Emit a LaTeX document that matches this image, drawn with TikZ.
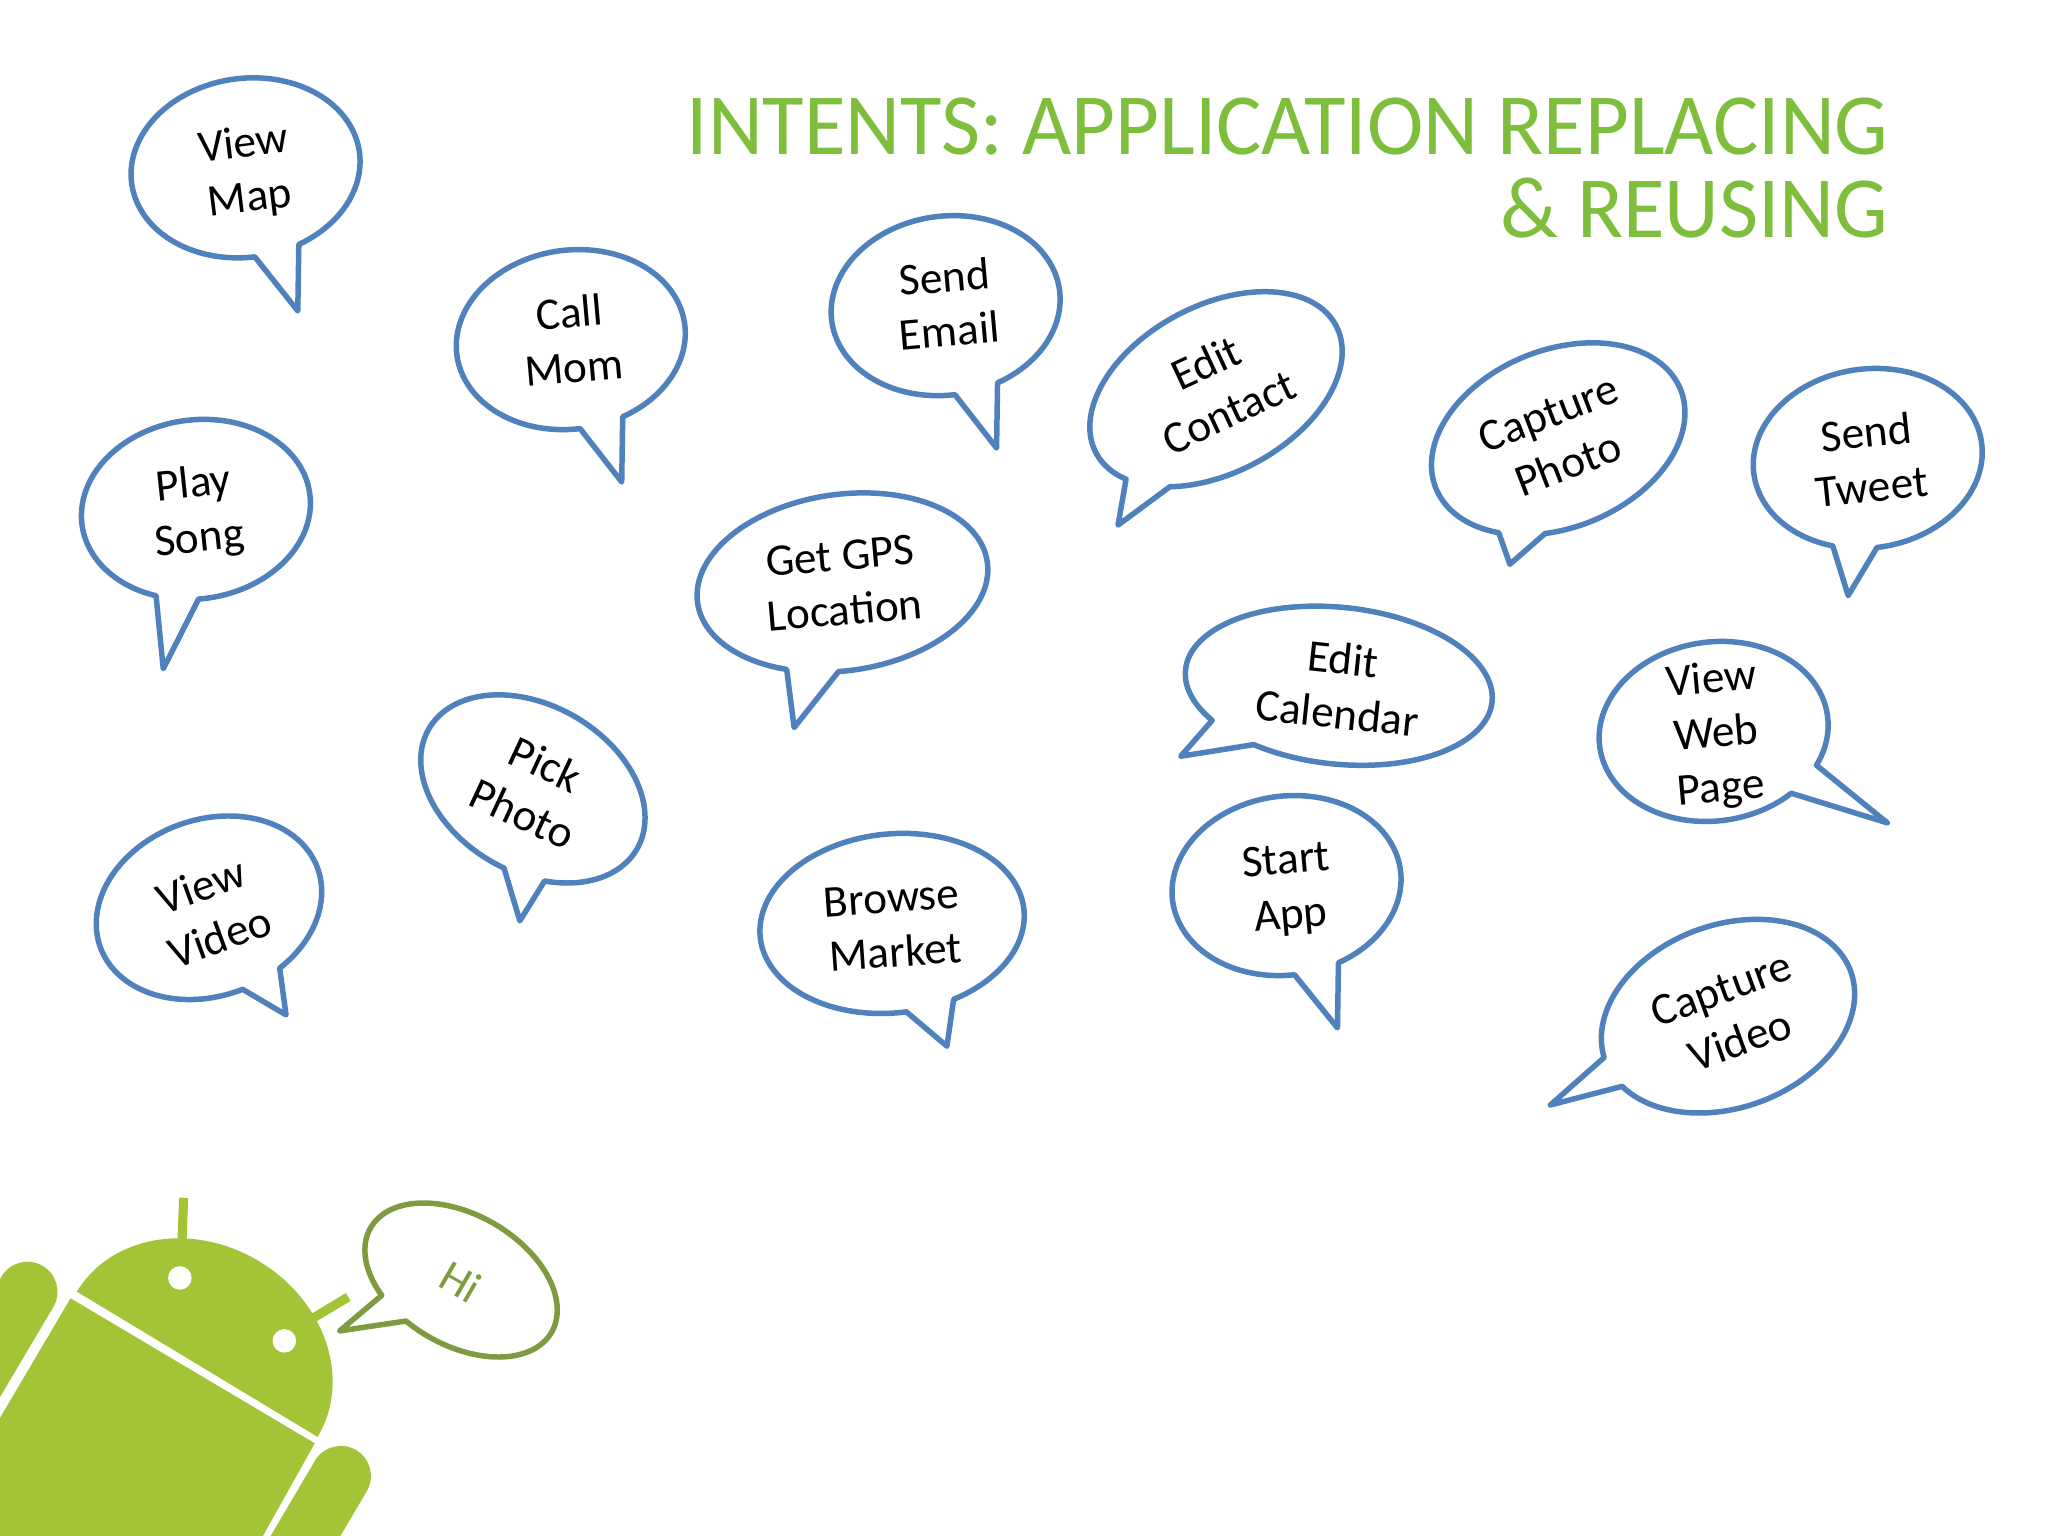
\documentclass[tikz,border=0pt]{standalone}
\usepackage{fontspec}
\setmainfont{Carlito}
\newfontfamily\titlefont[FakeStretch=0.974]{Carlito}
\usepackage{tikz}
\definecolor{bubbleblue}{HTML}{4F81BD}
\definecolor{hiolive}{HTML}{7F9B42}
\definecolor{titlegreen}{HTML}{7DBE3C}
\definecolor{droidgreen}{HTML}{A2C436}
\tikzstyle{bubble}=[line width=0.42mm, fill=white, line join=round]
\tikzstyle{bubbletext}=[align=center, font=\fontsize{9.85}{11.9}\selectfont, inner sep=0pt]
\tikzstyle{title}=[align=right, anchor=north east, inner sep=0pt, text=titlegreen, font=\titlefont\fontsize{19}{17.9}\selectfont]
\tikzstyle{limb}=[line width=4.6mm, line cap=round, draw=droidgreen]
\tikzstyle{antenna}=[line width=0.7mm, draw=droidgreen]
\tikzstyle{eye}=[circle, fill=white, minimum size=1.8mm, inner sep=0pt]

\begin{document}
\begin{tikzpicture}[x=0.1mm, y=0.1mm]
      \useasboundingbox (0,0) rectangle (1568,-1176);
      \clip (0,0) rectangle (1568,-1176);
      \fill [white] (0,0) rectangle (1568,-1176);

      \node [title] (heading) at (1446.5,-74.5) {INTENTS: APPLICATION REPLACING\\\& REUSING};

      % the droid
      \draw [limb] (21,-989) -- (-50,-1109);
      \draw [limb] (261,-1130) -- (225,-1191);
      \draw [antenna] (139,-960) -- (140.6,-917);
      \draw [antenna] (230,-1015) -- (266.6,-993);
      \fill [droidgreen] (54,-994) -- (241,-1105) -- (199,-1180) -- (-2,-1180) -- (-2,-1089) -- cycle;
      \begin{scope}[shift={(151,-1044.5)}, rotate=-31.1]
        \fill [droidgreen] (-107.6,0) arc (180:0:107.6 and 92) -- cycle;
      \end{scope}
      \node [eye] (lefteye) at (137.7,-978.4) {};
      \node [eye] (righteye) at (217.7,-1026.6) {};

      % name/colour/text colour/centre/radii/turn/tail ends/tip/text place/text turn/text
      \foreach \lbl/\col/\tcol/\cx/\cy/\rx/\ry/\rot/\ax/\ay/\bx/\by/\tx/\ty/\nx/\ny/\tr/\txt in {
        viewmap/bubbleblue/black/188/128.5/88/68.5/8/228/186/195/196/228/238/189/132/7/{View\\Map},
        callmom/bubbleblue/black/437/260/88/68.5/8/476/318/444/327/476/369/437.5/260/5/{Call\\Mom},
        sendemail/bubbleblue/black/724/234/88/68.5/8/763/292/731/301/763/343/725/232.5/5/{Send\\Email},
        editcontact/bubbleblue/black/931/298/104/64/28/896/372/865/364/856/402/932/296.5/25/{Edit\\Contact},
        capturephoto/bubbleblue/black/1193/336/101/68/22/1183/408/1148/407/1156/432/1193/336/21/{Capture\\Photo},
        sendtweet/bubbleblue/black/1430/351/88/68.5/8/1437/418/1404/416/1415/456/1431/351.5/6/{Send\\Tweet},
        playsong/bubbleblue/black/150/390/88/68.5/8/152/457/120/455/125/512/150.5/392.5/6/{Play\\Song},
        getgps/bubbleblue/black/645/446/112/67.5/8/642/514/602/513/608/557/645/446.5/5/{Get GPS\\Location},
        editcalendar/bubbleblue/black/1025/525/118/60/-6/960/570/930/551/904/579/1026/525/-6/{Edit\\Calendar},
        viewweb/bubbleblue/black/1312/560/88/68.5/8/1391/586/1371/607/1445/630/1314/563/5/{View\\Web\\Page},
        pickphoto/bubbleblue/black/408/604/92/64/-30/417/675/385/667/398/705/409/604/-25/{Pick\\Photo},
        viewvideo/bubbleblue/black/160/695/88.5/67.5/20/215/742/186/758/219/777/161/697.5/20/{View\\Video},
        browse/bubbleblue/black/683/707/101.5/68.5/6/730/765/694/775/725/801/684/708.5/4/{Browse\\Market},
        startapp/bubbleblue/black/985/678/88/68.5/8/1024/736/991/745/1024/787/986.5/681.5/5/{Start\\App},
        capturevideo/bubbleblue/black/1323/778/100/70/20/1240/833/1227/810/1187/846/1325/777/20/{Capture\\Video},
        hi/hiolive/hiolive/353/980/80/50/-30/310/1012/291/992/260/1019/353/981/-30/{Hi}} {
        \pgfmathsetmacro{\anga}{atan2((-(\ax-\cx)*sin(\rot)+(\cy-\ay)*cos(\rot))/\ry,((\ax-\cx)*cos(\rot)+(\cy-\ay)*sin(\rot))/\rx)}
        \pgfmathsetmacro{\angb}{atan2((-(\bx-\cx)*sin(\rot)+(\cy-\by)*cos(\rot))/\ry,((\bx-\cx)*cos(\rot)+(\cy-\by)*sin(\rot))/\rx)}
        \pgfmathsetmacro{\angc}{\angb<\anga ? \angb+360 : \angb}
        \coordinate (\lbl tip) at (\tx,-\ty);
        \begin{scope}[shift={(\cx,-\cy)}, rotate=\rot]
          \draw [bubble, draw=\col] (\anga:{\rx} and {\ry}) arc (\anga:\angc:{\rx} and {\ry}) -- (\lbl tip) -- cycle;
        \end{scope}
        \node [bubbletext, text=\tcol, rotate=\tr] (\lbl) at (\nx,-\ny) {\txt};
      }
    \end{tikzpicture}
\end{document}
